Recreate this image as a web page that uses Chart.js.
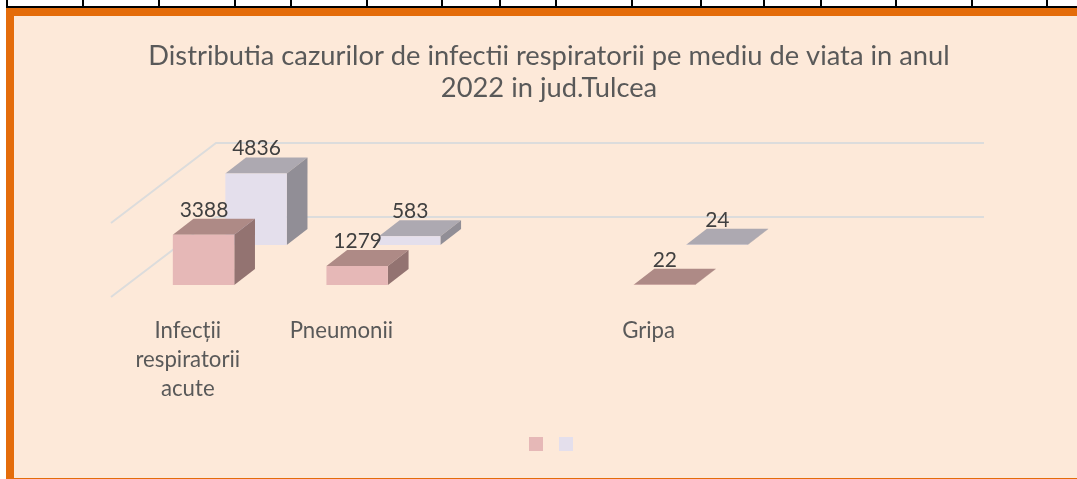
<!DOCTYPE html>
<html>
<head>
<meta charset="utf-8">
<title>Distributia cazurilor de infectii respiratorii</title>
<script src="https://cdn.jsdelivr.net/npm/chart.js@4/dist/chart.umd.min.js"></script>
<style>
  html, body { margin: 0; padding: 0; background: #fff; overflow: hidden; }
  #page { position: relative; width: 1077px; height: 479px; overflow: hidden; }
  #rule { position: absolute; left: 6px; right: 0; top: 6px; height: 2px; background: #000; }
  .tick { position: absolute; top: 0; width: 2px; height: 7px; background: #000; }
  #panel {
    position: absolute; left: 6px; top: 8px; width: 1063px; height: 462px;
    background: #fde9d9; border-left: 8px solid #e46c0a; border-top: 8px solid #e46c0a;
    border-bottom: 1px solid #e46c0a; overflow: hidden;
  }
  canvas { display: block; }
</style>
</head>
<body>
<div id="page">
  <div id="rule"></div>
  <div id="panel"><canvas id="chart" width="1070" height="462"></canvas></div>
</div>
<script>
const titleLines = ['Distributia cazurilor de infectii respiratorii pe mediu de viata in anul', '2022 in jud.Tulcea'];
const categories = [['Infecții', 'respiratorii', 'acute'], 'Pneumonii', '', 'Gripa', ''];
const frontValues = [3388, 1279, null, 22, null];
const backValues = [4836, 583, null, 24, null];
const tableTicks = [6, 82, 158, 234, 290, 366, 441, 499, 555, 631, 700, 763, 820, 895, 971, 1046];

tableTicks.forEach(x => {
  const t = document.createElement('div');
  t.className = 'tick';
  t.style.left = x + 'px';
  document.getElementById('page').appendChild(t);
});

// 3D look: how far the floor runs back, and where each series row sits on it
const floorX = 105, floorY = 80;
const barDepthX = 20.7, barDepthY = 16;
const rows = [
  { dx: 15.75, dy: -12, top: '#ae8a86', side: '#937371' },
  { dx: 68.25, dy: -52, top: '#ada9b1', side: '#918e96' }
];

const fake3d = {
  id: 'fake3d',
  afterLayout(chart) {
    // legend sits a little right of the canvas centre in the original
    chart.legend.left += 5;
    chart.legend.right += 5;
  },
  beforeDatasetsDraw(chart) {
    const { ctx, chartArea, scales } = chart;
    ctx.save();
    ctx.strokeStyle = '#dcdcdc';
    ctx.lineWidth = 2;
    scales.y.ticks.forEach(t => {
      const y = scales.y.getPixelForValue(t.value);
      ctx.beginPath();
      ctx.moveTo(chartArea.left, y);
      ctx.lineTo(chartArea.left + floorX, y - floorY);
      ctx.lineTo(chartArea.right + floorX, y - floorY);
      ctx.stroke();
    });
    ctx.restore();
  },
  beforeDatasetDraw(chart, args) {
    const { ctx } = chart;
    const row = rows[args.index];
    ctx.save();
    ctx.translate(row.dx, row.dy);
    args.meta.data.forEach((bar, i) => {
      if (chart.data.datasets[args.index].data[i] == null) return;
      const l = bar.x - bar.width / 2, r = bar.x + bar.width / 2;
      ctx.fillStyle = row.top;
      ctx.beginPath();
      ctx.moveTo(l, bar.y);
      ctx.lineTo(r, bar.y);
      ctx.lineTo(r + barDepthX, bar.y - barDepthY);
      ctx.lineTo(l + barDepthX, bar.y - barDepthY);
      ctx.closePath();
      ctx.fill();
      ctx.fillStyle = row.side;
      ctx.beginPath();
      ctx.moveTo(r, bar.y);
      ctx.lineTo(r + barDepthX, bar.y - barDepthY);
      ctx.lineTo(r + barDepthX, bar.base - barDepthY);
      ctx.lineTo(r, bar.base);
      ctx.closePath();
      ctx.fill();
    });
  },
  afterDatasetDraw(chart) {
    chart.ctx.restore();
  },
  afterDatasetsDraw(chart) {
    const { ctx } = chart;
    ctx.save();
    ctx.fillStyle = '#404040';
    ctx.font = '21px Lato';
    ctx.textAlign = 'center';
    ctx.textBaseline = 'alphabetic';
    chart.data.datasets.forEach((ds, d) => {
      chart.getDatasetMeta(d).data.forEach((bar, i) => {
        if (ds.data[i] == null) return;
        const x = bar.x + rows[d].dx + 0.5;
        const y = bar.y + rows[d].dy - barDepthY - 2;
        ctx.fillText(String(ds.data[i]), x, y);
      });
    });
    ctx.restore();
  }
};

new Chart(document.getElementById('chart'), {
  type: 'bar',
  data: {
    labels: categories,
    datasets: [
      { label: '', data: frontValues, backgroundColor: '#e6b8b7' },
      { label: '', data: backValues, backgroundColor: '#e4dfec' }
    ]
  },
  plugins: [fake3d],
  options: {
    responsive: false,
    animation: false,
    devicePixelRatio: 1,
    layout: { padding: { bottom: 17 } },
    datasets: { bar: { grouped: false, barPercentage: 0.4, categoryPercentage: 1 } },
    plugins: {
      tooltip: { enabled: false },
      title: {
        display: true,
        text: titleLines,
        color: '#595959',
        font: { family: 'Lato', size: 27.3, weight: 'normal', lineHeight: 1.172 },
        padding: { top: 24, bottom: 119 }
      },
      legend: {
        position: 'bottom',
        labels: { boxWidth: 14, boxHeight: 14, padding: 10, font: { size: 12 } }
      }
    },
    scales: {
      x: {
        grid: { display: false },
        border: { display: false },
        ticks: {
          autoSkip: false,
          maxRotation: 0,
          padding: 11,
          color: '#595959',
          font: { family: 'Lato', size: 22.2, lineHeight: 1.306 }
        },
        afterFit(scale) { scale.height = 130; }
      },
      y: {
        min: 0,
        max: 5000,
        grid: { display: false },
        border: { display: false },
        ticks: { stepSize: 5000, display: false },
        afterFit(scale) { scale.width = 97; }
      },
      // only here to hold the plot off the right edge without moving the title
      spacer: {
        position: 'right',
        grid: { display: false },
        border: { display: false },
        ticks: { display: false },
        afterFit(scale) { scale.width = 205; }
      }
    }
  }
});
</script>
</body>
</html>
